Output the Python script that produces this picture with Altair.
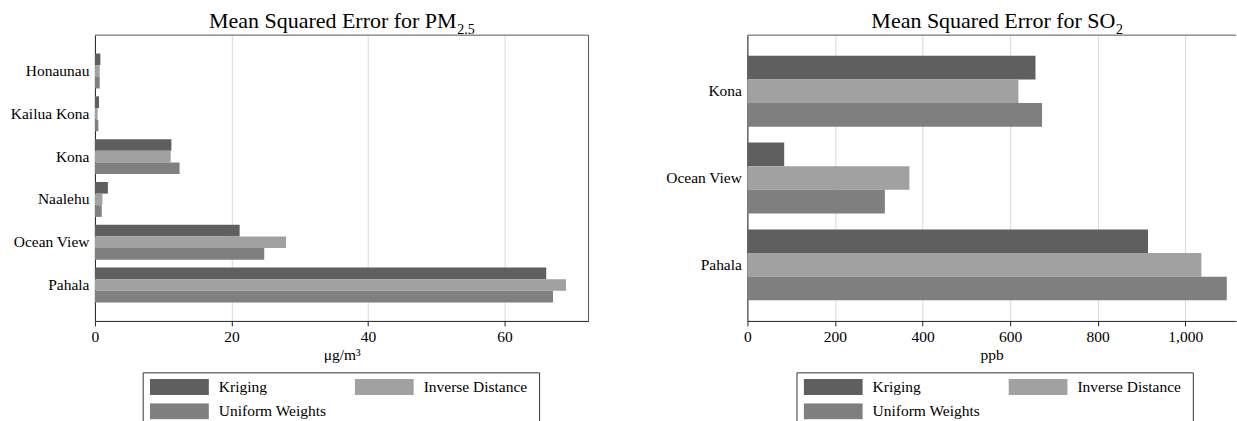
import altair as alt
import pandas as pd

# Mean squared error by monitoring site and interpolation method
methods = ["Kriging", "Inverse Distance", "Uniform Weights"]
method_colors = ["#5f5f5f", "#a1a1a1", "#7f7f7f"]

pm_sites = ["Honaunau", "Kailua Kona", "Kona", "Naalehu", "Ocean View", "Pahala"]
pm_kriging = [0.8, 0.6, 11.2, 1.9, 21.2, 66.1]
pm_inverse = [0.7, 0.4, 11.1, 1.1, 28.0, 69.0]
pm_uniform = [0.7, 0.5, 12.4, 1.0, 24.8, 67.1]
pm_ticks = [0, 20, 40, 60]

so2_sites = ["Kona", "Ocean View", "Pahala"]
so2_kriging = [658, 84, 915]
so2_inverse = [619, 370, 1037]
so2_uniform = [673, 314, 1095]
so2_ticks = [0, 200, 400, 600, 800, 1000]

FONT = "Liberation Serif"
PLOT_H = 286
SWATCH = "M-1,-0.271L1,-0.271L1,0.271L-1,0.271Z"


def long_table(sites, k, i, u):
    rows = []
    for series, vals in zip(methods, [k, i, u]):
        for s, v in zip(sites, vals):
            rows.append({"site": s, "method": series, "value": v})
    return pd.DataFrame(rows)


def panel(df, sites, xmax, ticks, fmt, width, outer, title, title_x,
          sub, sub_x, x_title, legend_x, box_x, right_frame):
    bars = alt.Chart(df).mark_bar().encode(
        x=alt.X("value:Q",
                scale=alt.Scale(domain=[0, xmax], nice=False, zero=True),
                axis=alt.Axis(values=ticks, format=fmt, title=x_title,
                              grid=True, gridColor="#d9d9d9", gridWidth=1,
                              tickSize=5, tickColor="#222", domainColor="#222",
                              labelFont=FONT, labelFontSize=15.5, labelColor="black",
                              labelPadding=4, labelFlush=False,
                              titleFont=FONT, titleFontSize=15.5, titleColor="black",
                              titleFontWeight="normal", titlePadding=2)),
        y=alt.Y("site:N", sort=sites,
                scale=alt.Scale(paddingInner=0.184, paddingOuter=outer),
                axis=alt.Axis(title=None, ticks=False, grid=False, labelPadding=6,
                              minExtent=95, maxExtent=95, domainColor="#222",
                              labelFont=FONT, labelFontSize=15.5, labelColor="black")),
        yOffset=alt.YOffset("method:N", sort=methods,
                            scale=alt.Scale(paddingInner=0, paddingOuter=0)),
        color=alt.Color("method:N", sort=methods,
                        scale=alt.Scale(domain=methods, range=method_colors),
                        legend=alt.Legend(title=None, orient="none",
                                          legendX=legend_x, legendY=344,
                                          direction="horizontal",
                                          columns=2, symbolType=SWATCH,
                                          symbolSize=3481, symbolStrokeWidth=0,
                                          symbolOpacity=1, clipHeight=16,
                                          labelOffset=10, columnPadding=28,
                                          rowPadding=7.4, padding=0,
                                          labelFont=FONT, labelFontSize=15.5,
                                          labelColor="black")),
    )

    one = alt.Data(values=[{"k": 1}])
    # heading: main text ends where the subscript starts
    heading = alt.Chart(one).mark_text(
        text=title, align="right", baseline="alphabetic", font=FONT, fontSize=22,
        color="black"
    ).encode(x=alt.value(title_x), y=alt.value(-7.6))
    subscript = alt.Chart(one).mark_text(
        text=sub, align="left", baseline="alphabetic", font=FONT, fontSize=14,
        color="black"
    ).encode(x=alt.value(sub_x), y=alt.value(-1.5))

    frame_top = alt.Chart(one).mark_rule(color="#555", strokeWidth=1).encode(
        x=alt.value(0), x2=alt.value(width), y=alt.value(0))
    layers = [bars, heading, subscript, frame_top]
    if right_frame:
        layers.append(alt.Chart(one).mark_rule(color="#555", strokeWidth=1).encode(
            x=alt.value(width), y=alt.value(0), y2=alt.value(PLOT_H)))

    # outline around the key (open at the bottom edge of the page)
    box_l, box_r, box_t, box_b = box_x[0], box_x[1], 338, 386.7
    for enc in (
        dict(x=alt.value(box_l), y=alt.value(box_t), y2=alt.value(box_b)),
        dict(x=alt.value(box_r), y=alt.value(box_t), y2=alt.value(box_b)),
        dict(x=alt.value(box_l), x2=alt.value(box_r), y=alt.value(box_t)),
    ):
        layers.append(alt.Chart(one).mark_rule(color="#333", strokeWidth=1).encode(**enc))

    return alt.layer(*layers).properties(width=width, height=PLOT_H)


pm_df = long_table(pm_sites, pm_kriging, pm_inverse, pm_uniform)
so2_df = long_table(so2_sites, so2_kriging, so2_inverse, so2_uniform)

left = panel(pm_df, pm_sites, 72.3, pm_ticks, "d", 494, 0.43,
             "Mean Squared Error for PM", 362, "2.5", 362.7, "μg/m³",
             55, (48.3, 445), True)
right = panel(so2_df, so2_sites, 1116, so2_ticks, ",d", 489, 0.238,
              "Mean Squared Error for SO", 368.3, "2", 369, "ppb",
              56.3, (49.6, 446.3), False)

chart = alt.hconcat(left, right, spacing=63).resolve_scale(
    color="independent", x="independent", y="independent", yOffset="independent"
).resolve_legend(color="independent").properties(
    padding={"left": 0, "top": 9, "right": 0, "bottom": 0},
    background="white",
).configure(font=FONT).configure_view(stroke=None)

chart.save("out.html", embed_options={"renderer": "svg", "actions": False})
